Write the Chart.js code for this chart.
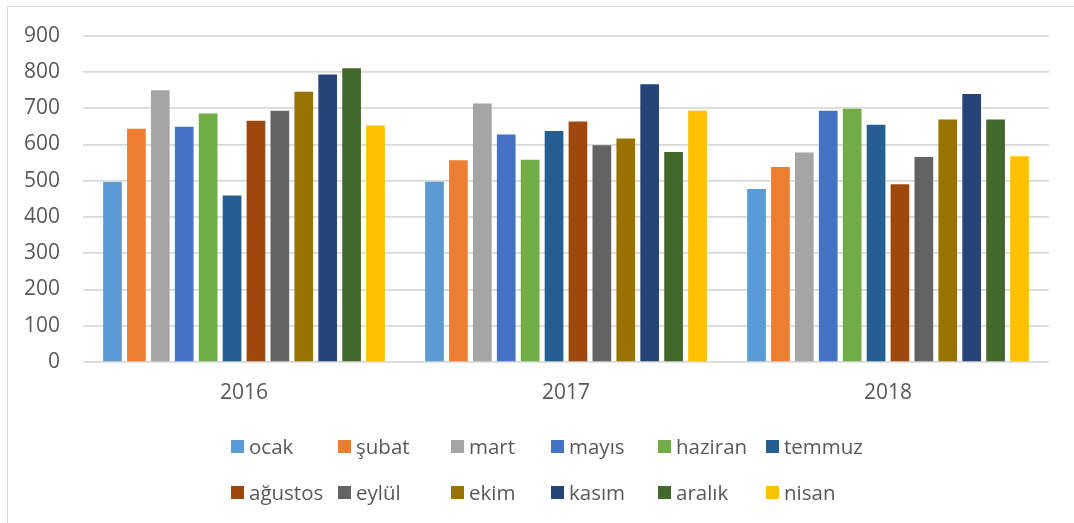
<!DOCTYPE html>
<html>
<head>
<meta charset="utf-8">
<script src="https://cdn.jsdelivr.net/npm/chart.js@4.4.1/dist/chart.umd.min.js"></script>
<style>
  html, body { margin: 0; padding: 0; background: #fff; }
  #wrap { position: relative; width: 1074px; height: 523px; overflow: hidden; }
  #frame {
    position: absolute; left: 7px; top: 6px; width: 1200px; height: 600px;
    border-left: 1px solid #d9d9d9; border-top: 1px solid #d9d9d9;
  }
  #chart { position: absolute; left: 0; top: 0; }
  .lg-item { position: absolute; font-family: 'Open Sans', sans-serif; font-size: 20.5px; color: #595959; line-height: 20px; white-space: nowrap; }
  .lg-box { position: absolute; width: 13px; height: 13px; }
</style>
</head>
<body>
<div id="wrap">
  <div id="frame"></div>
  <canvas id="chart" width="1074" height="523"></canvas>
  <div id="legend"></div>
</div>
<script>
// ── data
const years   = ['2016', '2017', '2018'];
const months  = ['ocak', 'şubat', 'mart', 'mayıs', 'haziran', 'temmuz',
                 'ağustos', 'eylül', 'ekim', 'kasım', 'aralık', 'nisan'];
const yTicks  = [0, 100, 200, 300, 400, 500, 600, 700, 800, 900];

const ocak    = [496, 497, 477];
const subat   = [643, 556, 538];
const mart    = [749, 713, 578];
const mayis   = [649, 627, 693];
const haziran = [685, 558, 698];
const temmuz  = [459, 637, 654];
const agustos = [665, 663, 490];
const eylul   = [693, 598, 565];
const ekim    = [745, 616, 669];
const kasim   = [793, 766, 739];
const aralik  = [810, 579, 669];
const nisan   = [652, 693, 567];

const seriesValues = [ocak, subat, mart, mayis, haziran, temmuz,
                      agustos, eylul, ekim, kasim, aralik, nisan];

const COLORS = ['#5b9bd5', '#ed7d31', '#a5a5a5', '#4472c4', '#70ad47', '#255e91',
                '#9e480e', '#636363', '#997300', '#264478', '#43682b', '#ffc000'];

const TEXT = '#595959';
const GRID = '#d9d9d9';

// ── chart
const ctx = document.getElementById('chart');
new Chart(ctx, {
  type: 'bar',
  data: {
    labels: years,
    datasets: months.map((m, i) => ({
      label: m,
      data: seriesValues[i],
      backgroundColor: COLORS[i],
      borderWidth: 0,
      categoryPercentage: 0.891,
      barPercentage: 0.782,
    })),
  },
  options: {
    responsive: false,
    animation: false,
    layout: { padding: { left: 0, right: 25, top: 35, bottom: 119 } },
    plugins: {
      legend: { display: false },
      tooltip: { enabled: false },
    },
    scales: {
      x: {
        grid: { display: false, drawTicks: false },
        border: { display: false },
        ticks: {
          color: TEXT,
          padding: 18,
          font: { family: "'Open Sans', sans-serif", size: 21 },
        },
        afterFit: s => { s.height = 42; },
      },
      y: {
        min: 0,
        max: 900,
        afterBuildTicks: s => { s.ticks = yTicks.map(v => ({ value: v })); },
        grid: { color: GRID, lineWidth: 1.7, drawTicks: false },
        border: { display: false },
        ticks: {
          color: TEXT,
          padding: 23,
          font: { family: "'Open Sans', sans-serif", size: 21 },
        },
        afterFit: s => { s.width = 83; },
      },
    },
  },
});

// ── legend (two rows of six, fixed columns)
const colX = [231, 338, 451, 551, 658, 766];
const rowY = [440, 486];
const legend = document.getElementById('legend');
months.forEach((m, i) => {
  const x = colX[i % 6];
  const y = rowY[Math.floor(i / 6)];
  const box = document.createElement('span');
  box.className = 'lg-box';
  box.style.left = x + 'px';
  box.style.top = y + 'px';
  box.style.background = COLORS[i];
  legend.appendChild(box);
  const txt = document.createElement('span');
  txt.className = 'lg-item';
  txt.style.left = (x + 18) + 'px';
  txt.style.top = (y - 4.5) + 'px';
  txt.textContent = m;
  legend.appendChild(txt);
});
</script>
</body>
</html>
